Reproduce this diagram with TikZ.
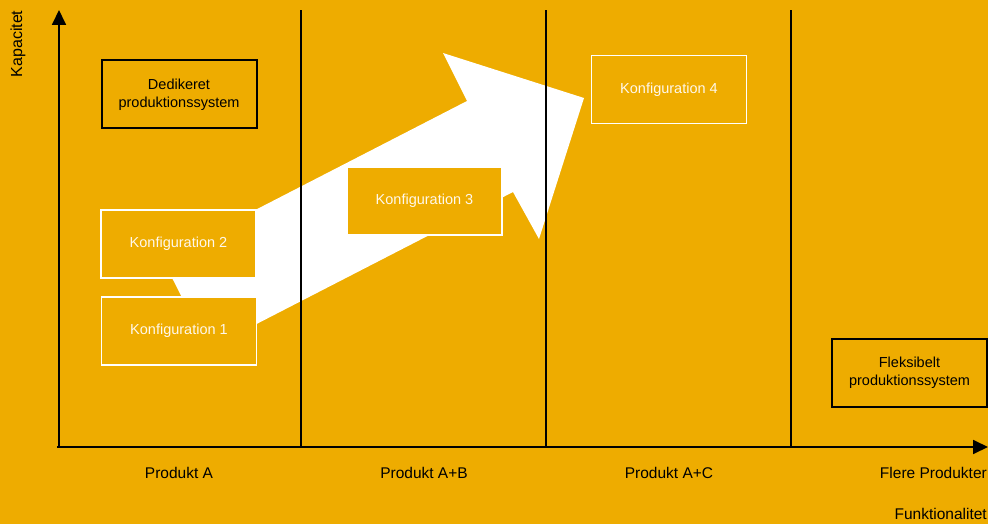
\documentclass[tikz,border=0pt]{standalone}
\usepackage{fontspec}
\setmainfont{Liberation Sans}
\usetikzlibrary{arrows.meta}
\definecolor{gul}{RGB}{238,172,0}
\definecolor{hvid}{RGB}{255,248,235}
\tikzset{
  sortboks/.style={draw=black, line width=2pt, fill=gul, minimum width=155pt, minimum height=68pt, inner sep=0pt, align=center, font=\fontsize{14.5}{18}\selectfont},
  hvidboks/.style={draw=white, line width=1.8pt, fill=gul, text=hvid, minimum width=155pt, minimum height=68pt, inner sep=0pt, font=\fontsize{14.5}{18}\selectfont},
  akse/.style={line width=1.8pt, -{Triangle[length=15pt,width=14pt]}},
  skille/.style={line width=1.4pt},
  etiket/.style={inner sep=0pt, font=\fontsize{15.5}{18}\selectfont}
}
\begin{document}
\begin{tikzpicture}[x=1pt,y=-1pt]
\useasboundingbox (0,0) rectangle (988,524);
\fill[gul] (0,0) rectangle (988,524);
\fill[white] (162,258) -- (467,101) -- (443,53) -- (584,98) -- (539,239) -- (513,192) -- (208,349) -- cycle;
\coordinate (o) at (59,447);
\coordinate (ytop) at (59,10);
\coordinate (xstart) at (57,447);
\coordinate (xend) at (988,447);
\coordinate (s1) at (301,447);
\coordinate (t1) at (301,10);
\coordinate (s2) at (546,447);
\coordinate (t2) at (546,10);
\coordinate (s3) at (791,447);
\coordinate (t3) at (791,10);
\draw[skille] (s1) -- (t1);
\draw[skille] (s2) -- (t2);
\draw[skille] (s3) -- (t3);
\draw[akse] (o) -- (ytop);
\draw[akse] (xstart) -- (xend);
\node[sortboks] (ded) at (179,94.5) {Dedikeret\\produktionssystem};
\node[hvidboks] (kon2) at (178.5,244) {Konfiguration 2};
\node[hvidboks] (kon1) at (179,331) {Konfiguration 1};
\node[hvidboks] (kon3) at (424.5,201) {Konfiguration 3};
\node[hvidboks] (kon4) at (669,89.5) {Konfiguration 4};
\node[sortboks] (flek) at (909.5,372.5) {Fleksibelt\\produktionssystem};
\node[etiket, rotate=90, font=\fontsize{16}{18}\selectfont] (kap) at (18,44) {Kapacitet};
\node[etiket] (pa) at (179,473) {Produkt A};
\node[etiket] (pab) at (424,473) {Produkt A+B};
\node[etiket] (pac) at (669,473) {Produkt A+C};
\node[etiket, anchor=east] (fp) at (987,473) {Flere Produkter};
\node[etiket, anchor=east] (fun) at (987,514) {Funktionalitet};
\end{tikzpicture}
\end{document}
